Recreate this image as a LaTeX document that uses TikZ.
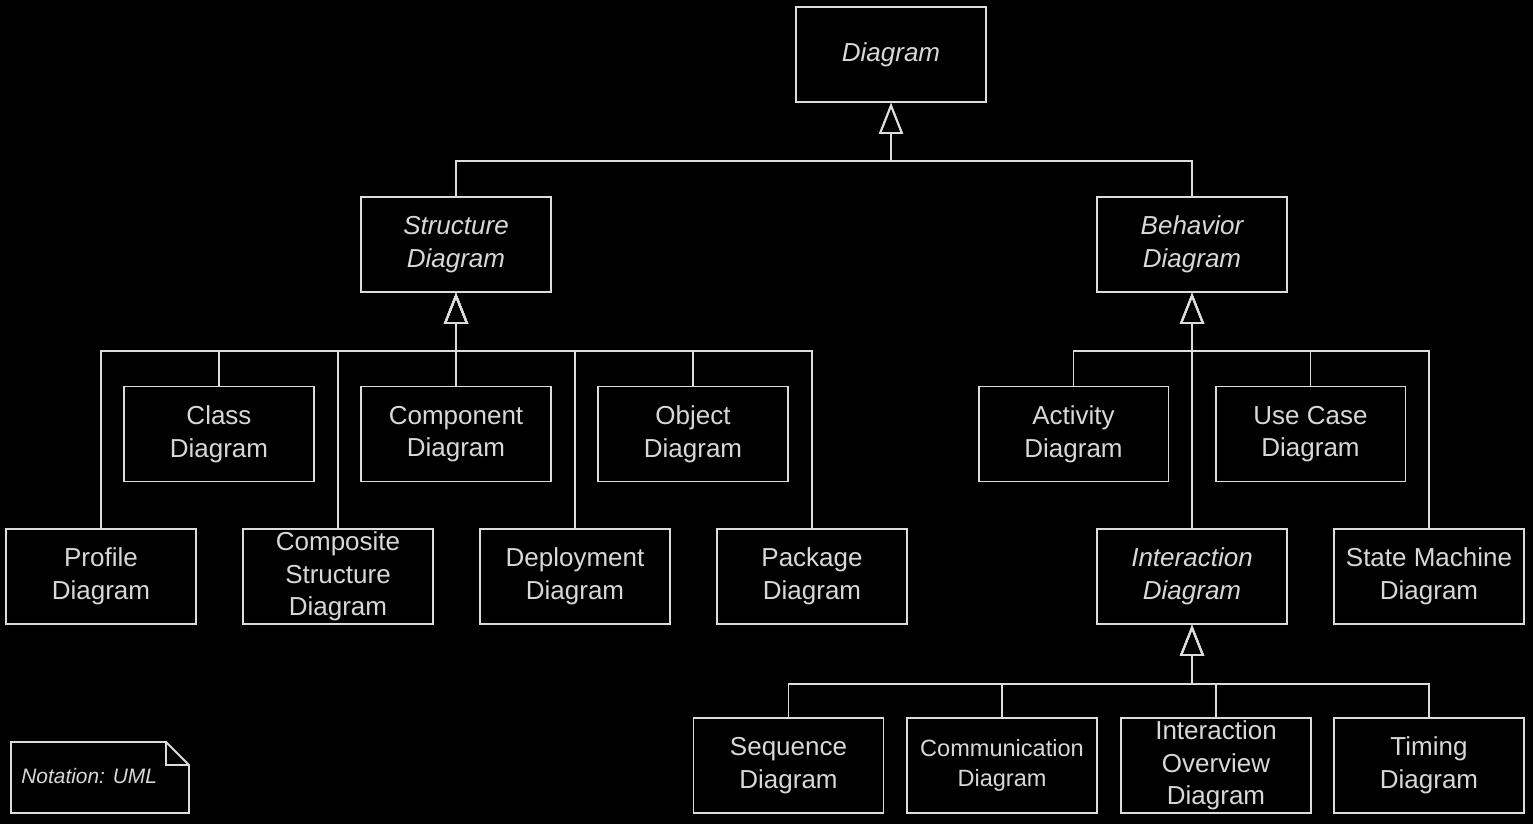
\documentclass[tikz,border=0pt]{standalone}
\usepackage{fontspec}
\setmainfont{Liberation Sans}
\usetikzlibrary{arrows.meta}
\definecolor{fg}{HTML}{DCDCDC}
\definecolor{tx}{HTML}{D8D8D8}
\begin{document}
\begin{tikzpicture}[x=0.02cm,y=-0.02cm,
  box/.style={draw=fg, line width=1.1pt, fill=black, minimum width=3.8cm, minimum height=1.9cm,
    inner sep=0pt, align=center, text=tx, font=\fontsize{14.8}{18.6}\selectfont},
  abs/.style={box, font=\fontsize{14.8}{18.6}\selectfont\itshape},
  small/.style={box, font=\fontsize{13.4}{17}\selectfont},
  gen/.style={draw=fg, line width=1.1pt, -{Triangle[open, length=0.62cm, width=0.48cm]}},
  conn/.style={draw=fg, line width=1.1pt}]
\fill[black] (0,0) rectangle (1533,824);
\useasboundingbox (0,0) rectangle (1533,824);
% nodes
\node[abs] (dia) at (891,54.5) {Diagram};
\node[abs] (sd) at (456,244.5) {Structure\\Diagram};
\node[abs] (bd) at (1192,244.5) {Behavior\\Diagram};
\node[box] (cls) at (219,434) {Class\\Diagram};
\node[box] (comp) at (456,434) {Component\\Diagram};
\node[box] (obj) at (693,434) {Object\\Diagram};
\node[box] (prof) at (101,576.5) {Profile\\Diagram};
\node[box] (cs) at (338,576.5) {Composite\\Structure\\Diagram};
\node[box] (dep) at (575,576.5) {Deployment\\Diagram};
\node[box] (pkg) at (812,576.5) {Package\\Diagram};
\node[box] (act) at (1073.5,434) {Activity\\Diagram};
\node[box] (uc) at (1310.5,434) {Use Case\\Diagram};
\node[abs] (inter) at (1192,576.5) {Interaction\\Diagram};
\node[box] (sm) at (1429,576.5) {State Machine\\Diagram};
\node[box] (seq) at (788.5,765.5) {Sequence\\Diagram};
\node[small] (commu) at (1002,765.5) {Communication\\Diagram};
\node[box] (io) at (1216,765.5) {Interaction\\Overview\\Diagram};
\node[box] (tim) at (1429,765.5) {Timing\\Diagram};
% bus coordinates
\coordinate (diabus) at (891,161);
\coordinate (sdbus) at (456,351);
\coordinate (bdbus) at (1192,351);
\coordinate (interbus) at (1192,684);
% connectors
\foreach \c in {sd,bd} \draw[gen] (\c.north) |- (diabus) -- (dia.south);
\foreach \c in {cls,comp,obj,prof,cs,dep,pkg} \draw[gen] (\c.north) |- (sdbus) -- (sd.south);
\foreach \c in {act,uc,inter,sm} \draw[gen] (\c.north) |- (bdbus) -- (bd.south);
\foreach \c in {seq,commu,io,tim} \draw[gen] (\c.north) |- (interbus) -- (inter.south);
% redraw boxes on top so lines do not cross text
% note
\draw[conn, fill=black] (11,742) -- (166,742) -- (189,765) -- (189,813) -- (11,813) -- cycle;
\draw[conn] (166,742) -- (166,765) -- (189,765);
\node[anchor=west, inner sep=0pt, text=tx, font=\fontsize{11.9}{14}\selectfont\itshape] (note) at (21,776) {Notation: UML};
\end{tikzpicture}
\end{document}
